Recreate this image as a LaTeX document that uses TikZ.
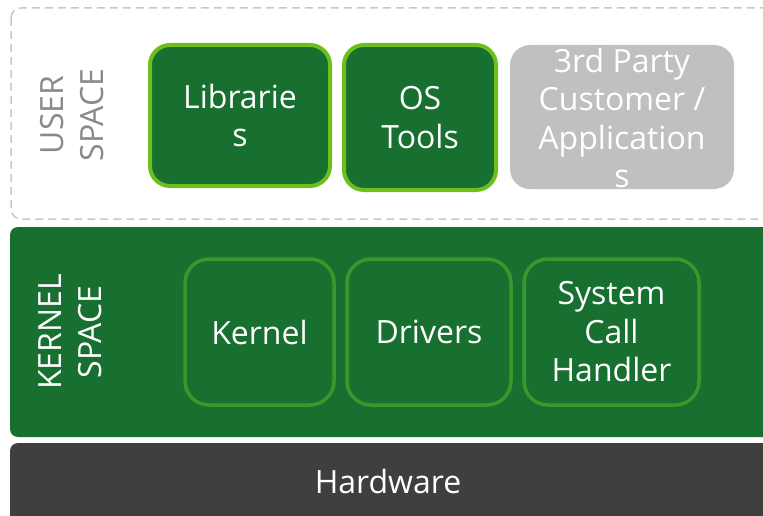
\documentclass[tikz,border=0pt]{standalone}
\usepackage{fontspec}
\setmainfont{Open Sans}
\definecolor{dkgreen}{HTML}{176F30}
\definecolor{ltgreen}{HTML}{6EBE1E}
\definecolor{midgreen}{HTML}{37992A}
\definecolor{ugray}{HTML}{C0C0C0}
\definecolor{dashgray}{HTML}{C8C8C8}
\definecolor{labgray}{HTML}{8A8A8A}
\definecolor{hwgray}{HTML}{3F3F3F}
\begin{document}
\begin{tikzpicture}[x=1pt,y=-1pt,
  txt/.style={text=white,align=center,inner sep=0pt,font=\fontsize{32}{38.5}\selectfont},
  side/.style={align=center,inner sep=0pt,rotate=90,font=\fontsize{32}{40}\selectfont},
  userbox/.style={draw=ltgreen,line width=4pt,fill=dkgreen,rounded corners=20pt},
  appbox/.style={fill=ugray,rounded corners=20pt},
  kbox/.style={draw=midgreen,line width=3.5pt,rounded corners=24pt}]
\useasboundingbox (0,0) rectangle (763,516);
\fill[white] (0,0) rectangle (763,516);
% user space
\draw[dashgray,line width=1.5pt,dash pattern=on 8pt off 5pt,rounded corners=10pt] (11,8) rectangle (775,219);
\node[side,text=labgray] (ul) at (72,115) {USER\\SPACE};
\draw[userbox] (150,45) rectangle (330,186) coordinate (libc);
\node[txt] (lib) at (240,115.5) {Librarie\\s};
\draw[userbox] (344,45) rectangle (496,190);
\node[txt] (ost) at (420,117.5) {OS\\Tools};
\fill[appbox] (510,45) rectangle (734,189);
\node[txt] (app) at (622,118) {3rd Party\\Customer /\\Application\\s};
% kernel space
\fill[dkgreen,rounded corners=8pt] (10,227) rectangle (775,437);
\node[side,text=white] (kl) at (70,332) {KERNEL\\SPACE};
\draw[kbox] (185,259) rectangle (334,405);
\node[txt] (ker) at (259.5,332) {Kernel};
\draw[kbox] (347,259) rectangle (511,405);
\node[txt] (drv) at (429,332) {Drivers};
\draw[kbox] (524,259) rectangle (699,405);
\node[txt] (sch) at (611.5,332) {System\\Call\\Handler};
% hardware
\fill[hwgray,rounded corners=8pt] (10,443) rectangle (775,530);
\node[txt] (hw) at (388,481) {Hardware};
\end{tikzpicture}
\end{document}
